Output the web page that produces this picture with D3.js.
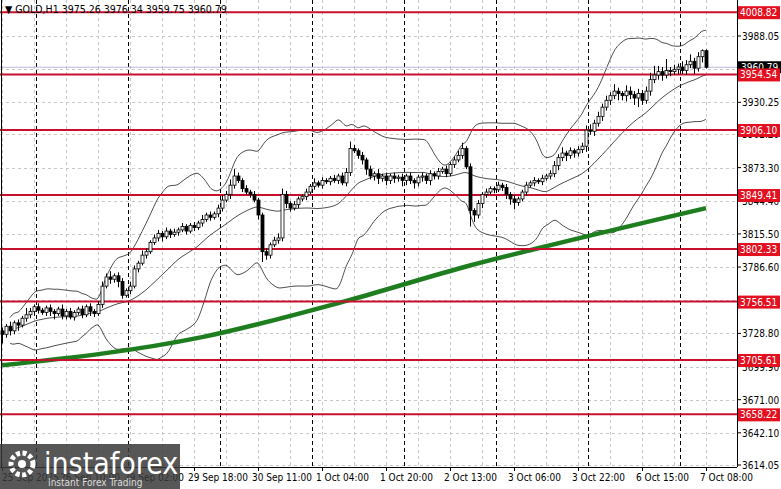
<!DOCTYPE html>
<html>
<head>
<meta charset="utf-8">
<script src="https://cdn.jsdelivr.net/npm/d3@7"></script>
<style>
  body { margin: 0; background: #fff; }
  text { font-family: "DejaVu Sans Condensed", "Liberation Sans", sans-serif; }
</style>
</head>
<body>
<div id="chart"></div>
<script>
// hourly closes, GOLD H1
const closes = [
  3728, 3735, 3731, 3738, 3736, 3742, 3745, 3748,
  3752, 3749, 3747, 3751, 3748, 3746, 3750, 3744, 3748, 3743, 3747, 3750, 3745, 3752, 3748, 3746, 3754,
  3770, 3778, 3776, 3779, 3774, 3762, 3766, 3770, 3785, 3790, 3797, 3800, 3808, 3812, 3816,
  3813, 3818, 3815, 3817, 3819, 3822, 3818, 3823, 3821, 3825, 3828, 3832, 3830, 3833, 3838,
  3845, 3850, 3858, 3866, 3862, 3855, 3852, 3850, 3845, 3832, 3800, 3797, 3806, 3810, 3812,
  3850, 3842, 3838, 3841, 3846, 3848, 3852, 3857, 3860, 3858, 3862, 3861, 3864, 3862, 3866,
  3860, 3869, 3890, 3888, 3884, 3880, 3872, 3866, 3868, 3864, 3866, 3862, 3866, 3864, 3865,
  3862, 3866, 3862, 3860, 3865, 3866, 3862, 3868, 3866, 3870, 3872, 3868, 3876, 3880, 3884,
  3890, 3874, 3836, 3832, 3842, 3850, 3852, 3855, 3854, 3858, 3856, 3850, 3846, 3843, 3846,
  3852, 3858, 3860, 3862, 3861, 3864, 3866, 3868, 3875, 3882, 3886, 3884, 3888, 3886, 3889,
  3892, 3906, 3905, 3912, 3918, 3926, 3932, 3936, 3940, 3938, 3936, 3940, 3937, 3934, 3938,
  3932, 3940, 3950, 3954, 3957, 3954, 3958, 3957, 3959, 3961, 3958, 3963, 3966, 3960, 3970,
  3975.26, 3960.79
];
const wickUp = [
  3, 2, 4, 2, 3, 2, 6, 3,  2, 3, 2, 2, 3, 2, 2, 4, 2, 3, 2, 2, 3, 2, 3, 2, 3,
  4, 3, 5, 2, 3, 3, 2, 4, 3, 2, 4, 3, 2, 3, 3,  2, 3, 2, 3, 2, 3, 2, 2, 3, 2,
  4, 2, 3, 2, 3,  4, 3, 5, 6, 3, 2, 3, 2, 3, 2,  2, 3, 2, 3, 4,  5, 3, 2, 3, 2,
  2, 3, 2, 4, 2, 3, 2, 2, 3, 2,  3, 4, 6, 3, 2, 3, 2, 3, 2, 4, 2, 3, 2, 3, 2,
  3, 2, 3, 2, 2, 3, 2, 3, 2, 3, 2, 3, 2, 3, 4,  5, 2, 3, 2, 3, 2, 3, 2, 2, 3,
  2, 3, 2, 3, 2,  2, 3, 2, 3, 2, 3, 2, 3, 4, 3, 5, 2, 3, 2, 3,  3, 4, 5, 3, 4,
  3, 4, 3, 6, 3, 2, 5, 4, 3, 4,  3, 4, 6, 8, 5, 4, 10, 3, 4, 3, 5, 4, 6, 3, 4,
  1.08, 0
];
const wickDn = [
  8, 3, 4, 3, 5, 2, 3, 3,  4, 3, 2, 3, 4, 5, 2, 3, 3, 2, 3, 2, 3, 2, 4, 3, 2,
  3, 2, 4, 3, 5, 3, 2, 3, 2, 3, 2, 3, 2, 2, 3,  4, 2, 3, 2, 3, 2, 3, 2, 3, 2,
  3, 2, 3, 2, 3,  3, 2, 4, 3, 2, 3, 2, 3, 2, 4,  9, 4, 3, 2, 3,  3, 4, 3, 2, 3,
  2, 3, 2, 3, 2, 3, 2, 3, 2, 3,  2, 3, 3, 2, 3, 4, 5, 3, 4, 5, 3, 4, 3, 4, 3,
  5, 4, 3, 5, 3, 4, 3, 4, 3, 3, 2, 3, 2, 3, 2,  3, 2, 14, 6, 3, 4, 3, 2, 3, 2,
  3, 4, 5, 6, 3,  2, 3, 2, 3, 2, 3, 2, 3, 3, 4, 3, 5, 3, 4, 3,  3, 5, 3, 4, 3,
  4, 3, 4, 3, 6, 4, 5, 4, 6, 8,  4, 3, 4, 3, 4, 5, 3, 4, 3, 4, 3, 4, 3, 5, 3,
  5, 0
];
const firstOpen = 3731;

// 200-period MA at a few bars
const maBars = [0, 50, 87, 117, 134, 176];
const maValues = [3701, 3725.5, 3758, 3788, 3803, 3838];

const levels = [4008.82, 3954.54, 3906.10, 3849.41, 3802.33, 3756.51, 3705.61, 3658.22];
const yTicks = [3988.05, 3959.15, 3930.25, 3902.20, 3873.30, 3844.40, 3815.50, 3786.60,
                3757.70, 3728.80, 3699.90, 3671.00, 3642.10, 3614.05];
const xLabels = ["25 Sep 2025", "26 Sep 10:00", "29 Sep 02:00", "29 Sep 18:00", "30 Sep 11:00",
                 "1 Oct 04:00", "1 Oct 20:00", "2 Oct 13:00", "3 Oct 06:00", "3 Oct 22:00",
                 "6 Oct 15:00", "7 Oct 08:00"];
const xLabelBars = [0, 16, 32, 48, 64, 80, 96, 112, 128, 144, 160, 176];
const daySepBars = [8.5, 31.5, 54.5, 77.5, 100.5, 123.5, 146.5, 169.5];

const W = 781, H = 489, plotR = 737, plotB = 467;
const bbPeriod = 20, bbDev = 3.2;

let bars = closes.map(function(c, i) {
  let o = i === 0 ? firstOpen : closes[i - 1];
  return { i: i, o: o, c: c, h: Math.max(o, c) + wickUp[i], l: Math.min(o, c) - wickDn[i] };
});
bars[176].h = 3976.34; bars[176].l = 3959.75;

// bollinger bands from closes
let bb = bars.map(function(b, i) {
  let win = closes.slice(Math.max(0, i - bbPeriod + 1), i + 1);
  let m = d3.mean(win), s = d3.deviation(win) || 0;
  return { i: i, mid: m, up: m + bbDev * s, lo: m - bbDev * s };
});

let x = d3.scaleLinear().domain([0, 176]).range([2, 706]);
let y = d3.scaleLinear().domain([3614.05, 3988.05]).range([465, 36]);

let svg = d3.select("#chart").append("svg").attr("width", W).attr("height", H);

// grid
svg.selectAll(".hg").data(yTicks).enter().append("line")
  .attr("x1", 0).attr("x2", plotR).attr("y1", d => Math.round(y(d)) + .5).attr("y2", d => Math.round(y(d)) + .5)
  .attr("stroke", "#c8c8c8").attr("stroke-dasharray", "3,3");
svg.selectAll(".vg").data(d3.range(0, 177, 8)).enter().append("line")
  .attr("y1", 0).attr("y2", plotB).attr("x1", d => Math.round(x(d)) + .5).attr("x2", d => Math.round(x(d)) + .5)
  .attr("stroke", "#c8c8c8").attr("stroke-dasharray", "3,3");
svg.selectAll(".ds").data(daySepBars).enter().append("line")
  .attr("y1", 0).attr("y2", plotB).attr("x1", d => Math.round(x(d)) + .5).attr("x2", d => Math.round(x(d)) + .5)
  .attr("stroke", "#000").attr("stroke-dasharray", "4,3");

// bollinger bands
["up", "mid", "lo"].forEach(function(k) {
  svg.append("path").datum(bb.slice(2))
    .attr("d", d3.line().curve(d3.curveBasis).x(d => x(d.i)).y(d => y(d[k])))
    .attr("fill", "none").attr("stroke", "#222").attr("stroke-width", 0.8);
});

// MA
svg.append("path").datum(maBars.map((b, i) => [b, maValues[i]]))
  .attr("d", d3.line().curve(d3.curveMonotoneX).x(d => x(d[0])).y(d => y(d[1])))
  .attr("fill", "none").attr("stroke", "#1e7d1e").attr("stroke-width", 4.5);

// current price line
svg.append("line").attr("x1", 0).attr("x2", plotR)
  .attr("y1", y(3960.79)).attr("y2", y(3960.79)).attr("stroke", "#b9b9d9").attr("stroke-width", 1);

// levels
svg.selectAll(".lv").data(levels).enter().append("line")
  .attr("x1", 0).attr("x2", plotR).attr("y1", d => y(d)).attr("y2", d => y(d))
  .attr("stroke", "#c8102e").attr("stroke-width", 2);

// candles
let cg = svg.selectAll(".cd").data(bars).enter().append("g");
cg.append("line").attr("x1", d => Math.round(x(d.i)) + .5).attr("x2", d => Math.round(x(d.i)) + .5)
  .attr("y1", d => y(d.h)).attr("y2", d => y(d.l)).attr("stroke", "#000");
cg.append("rect")
  .attr("x", d => Math.round(x(d.i)) - 1).attr("width", 3)
  .attr("y", d => y(Math.max(d.o, d.c)))
  .attr("height", d => Math.max(1, Math.abs(y(d.o) - y(d.c))))
  .attr("fill", d => d.c >= d.o ? "#fff" : "#000").attr("stroke", "#000").attr("stroke-width", 0.8);

// frame
svg.append("line").attr("x1", plotR + .5).attr("x2", plotR + .5).attr("y1", 0).attr("y2", plotB).attr("stroke", "#000");
svg.append("line").attr("x1", 0).attr("x2", plotR).attr("y1", plotB + .5).attr("y2", plotB + .5).attr("stroke", "#000");
svg.append("line").attr("x1", 1.5).attr("x2", 1.5).attr("y1", 0).attr("y2", plotB).attr("stroke", "#000");

// y axis labels
svg.selectAll(".yt").data(yTicks).enter().append("text")
  .attr("x", 742).attr("y", d => y(d) + 4).attr("font-size", 10).attr("fill", "#000")
  .text(d => d.toFixed(2));
svg.selectAll(".ytk").data(yTicks).enter().append("line")
  .attr("x1", plotR).attr("x2", plotR + 4).attr("y1", d => y(d)).attr("y2", d => y(d)).attr("stroke", "#000");

// current price box
svg.append("rect").attr("x", 738).attr("y", y(3960.79) - 6).attr("width", 43).attr("height", 12).attr("fill", "#000");
svg.append("text").attr("x", 741).attr("y", y(3960.79) + 4).attr("font-size", 10).attr("fill", "#fff").text("3960.79");

// level labels
svg.selectAll(".lb").data(levels).enter().append("rect")
  .attr("x", 738).attr("y", d => y(d) - 6).attr("width", 42).attr("height", 13).attr("fill", "#e3101f");
svg.selectAll(".lt").data(levels).enter().append("text")
  .attr("x", 740).attr("y", d => y(d) + 4).attr("font-size", 10).attr("fill", "#fff")
  .text(d => d.toFixed(2));

// x axis labels
svg.selectAll(".xt").data(xLabelBars).enter().append("text")
  .attr("x", d => Math.max(2, x(d) - 6)).attr("y", 481).attr("font-size", 10).attr("fill", "#000")
  .text((d, i) => xLabels[i]);
svg.selectAll(".xtk").data(xLabelBars).enter().append("line")
  .attr("x1", d => Math.round(x(d)) + .5).attr("x2", d => Math.round(x(d)) + .5)
  .attr("y1", plotB).attr("y2", plotB + 4).attr("stroke", "#000");

// header
svg.append("text").attr("x", 5).attr("y", 13).attr("font-size", 10.5).attr("fill", "#000")
  .text("▼ GOLD,H1  3975.26 3976.34 3959.75 3960.79");

// logo
let logo = svg.append("g");
logo.append("rect").attr("x", 0).attr("y", 444).attr("width", 180).attr("height", 45)
  .attr("fill", "#3a3a3a").attr("opacity", 0.85);
logo.append("circle").attr("cx", 22).attr("cy", 464).attr("r", 11)
  .attr("fill", "none").attr("stroke", "#fff").attr("stroke-width", 5).attr("stroke-dasharray", "4,2.5");
logo.append("circle").attr("cx", 22).attr("cy", 464).attr("r", 4).attr("fill", "#fff");
logo.append("text").attr("x", 44).attr("y", 474).attr("font-size", 30).attr("fill", "#fff")
  .attr("font-family", "Lato, sans-serif").text("instaforex");
logo.append("text").attr("x", 48).attr("y", 486).attr("font-size", 10).attr("fill", "#ddd")
  .text("Instant Forex Trading");
</script>
</body>
</html>
